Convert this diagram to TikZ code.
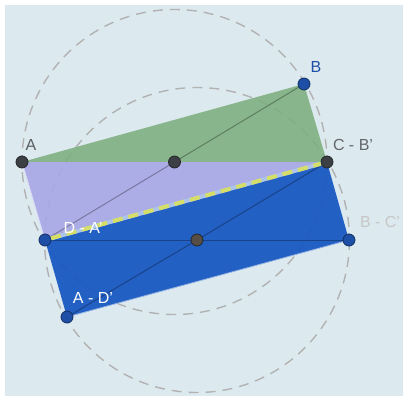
\documentclass[tikz,border=0pt]{standalone}
\usepackage{fontspec}
\setsansfont{Liberation Sans}
\usetikzlibrary{positioning}
\definecolor{paper}{HTML}{DCEAEF}
\definecolor{leaf}{HTML}{7DAE7E}
\definecolor{lilac}{HTML}{A7A6E6}
\definecolor{royal}{HTML}{1858C2}
\definecolor{pin}{HTML}{3C4045}
\definecolor{pinblue}{HTML}{1D4FA6}
\definecolor{lime}{HTML}{D6DE6A}
\tikzset{
  dot/.style={circle, fill=pin, draw=pin!60!black, thick, inner sep=0pt, minimum size=12pt},
  bluedot/.style={dot, fill=pinblue, draw=pinblue!60!black},
  guide/.style={draw=gray!60, line width=1.4pt, dash pattern=on 10pt off 7pt},
  diag/.style={draw=black, opacity=0.3, line width=1pt},
  tag/.style={font=\sffamily\fontsize{16}{18}\selectfont, inner sep=1pt},
}
\begin{document}
\begin{tikzpicture}[x=1pt,y=-1pt]
  % canvas
  \fill[white] (0,0) rectangle (408,400);
  \fill[paper] (5,5) rectangle (403,396);

  % vertices of both rectangles
  \coordinate (A) at (22,162);
  \coordinate (B) at (304,84);
  \coordinate (C) at (327,162);
  \coordinate (D) at (45,240);
  \coordinate (Cp) at (349,240);
  \coordinate (Dp) at (67,317);
  \coordinate (O1) at (174.5,162);
  \coordinate (O2) at (197,240);

  % circumcircles
  \draw[guide] (O1) circle[radius=152.5];
  \draw[guide] (O2) circle[radius=152.5];

  % regions
  \fill[leaf, fill opacity=0.88] (A) -- (B) -- (C) -- cycle;
  \fill[lilac, fill opacity=0.9] (A) -- (C) -- (D) -- cycle;
  \fill[royal, fill opacity=0.94] (D) -- (C) -- (Cp) -- (Dp) -- cycle;
  \draw[white!60!lilac, thick] (A) -- (D);
  \draw[white!55!royal, thick] (Dp) -- (Cp);

  % points
  \node[dot] (pA) at (A) {};
  \node[bluedot] (pB) at (B) {};
  \node[dot] (pC) at (C) {};
  \node[bluedot] (pD) at (D) {};
  \node[bluedot] (pCp) at (Cp) {};
  \node[bluedot] (pDp) at (Dp) {};
  \node[dot] (pO1) at (O1) {};
  \node[dot, fill=pin!80!brown] (pO2) at (O2) {};

  % diagonals
  \draw[diag] (pB) -- (pO1);
  \draw[diag] (pO1) -- (pD);
  \draw[diag] (pD) -- (pO2);
  \draw[diag] (pO2) -- (pCp);
  \draw[diag] (pDp) -- (pO2);
  \draw[diag] (pO2) -- (pC);

  % shared side
  \draw[white!65!royal, line width=4pt] (pD) -- (pC);
  \draw[lime, line width=4pt, dash pattern=on 10pt off 6pt] (pD) -- (pC);

  % labels
  \node[tag, text=pin!85] (lA) at (31,145) {A};
  \node[tag, text=pinblue] (lB) at (316,67) {B};
  \node[tag, text=pin!80] (lC) at (353,145) {C - B'};
  \node[tag, text=white] (lD) at (83,228) {D - A'};
  \node[tag, text=gray!45] (lCp) at (380,222) {B - C'};
  \node[tag, text=white] (lDp) at (93,298) {A - D'};
\end{tikzpicture}
\end{document}
